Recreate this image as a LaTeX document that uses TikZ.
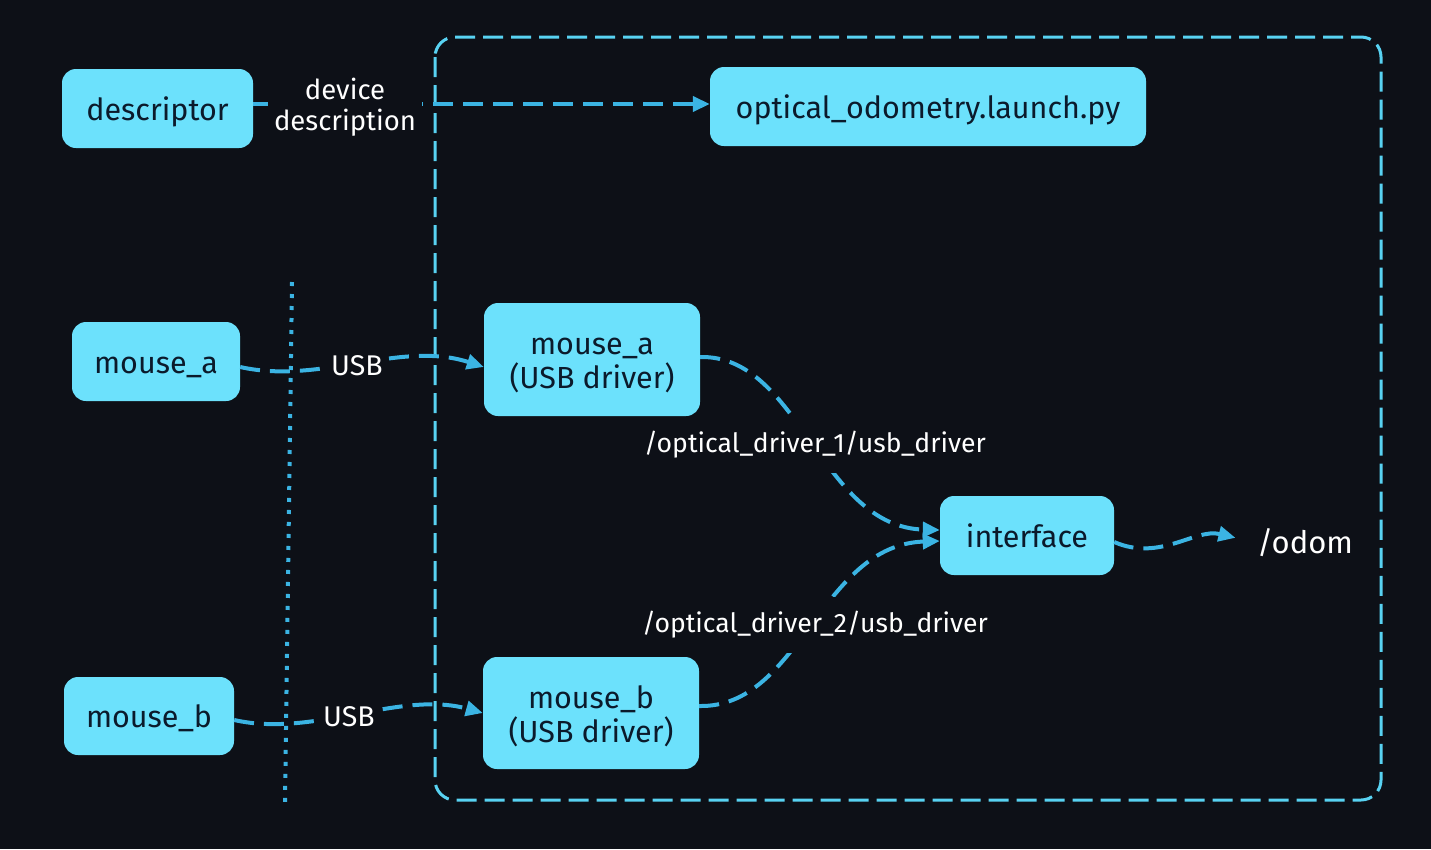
\documentclass[tikz,border=0pt]{standalone}
\usepackage{fontspec}
\setmainfont{Fira Sans}
\usetikzlibrary{arrows.meta,calc}
\definecolor{bg}{HTML}{0D1017}
\definecolor{nodefill}{HTML}{6CE1FC}
\definecolor{nodetext}{HTML}{0B1A2B}
\definecolor{edgecol}{HTML}{3BB4E3}
\definecolor{framecol}{HTML}{58D2F2}
\tikzset{
  box/.style={fill=nodefill, rounded corners=14pt, text=nodetext, font=\fontsize{30.5}{34}\selectfont, align=center, inner sep=0pt, text height=23pt, text depth=0pt},
  box2/.style={box, text height=58pt},
  edge/.style={draw=edgecol, line width=4pt, dash pattern=on 20pt off 10pt, -{Triangle[length=17pt,width=15pt]}},
  lbl/.style={fill=bg, text=white, font=\fontsize{27.5}{31}\selectfont, align=center, inner sep=6pt},
  frame/.style={draw=framecol, line width=3pt, dash pattern=on 20pt off 8pt, rounded corners=20pt},
  dotline/.style={draw=edgecol, line width=4pt, dash pattern=on 4pt off 8pt}
}
\begin{document}
\begin{tikzpicture}[x=1pt,y=-1pt]
\fill[bg] (0,0) rectangle (1431,849);
\useasboundingbox (0,0) rectangle (1431,849);
% outer dashed frame
\draw[frame] (435,37) rectangle (1381,800);
% dotted separator
\coordinate (dtop) at (292,282);
\coordinate (dbot) at (285,803);
\draw[dotline] (dtop) -- (dbot);
% nodes
\node[box, minimum width=191pt, minimum height=79pt] (desc) at (157.5,108.5) {descriptor};
\node[box, minimum width=436pt, minimum height=79pt] (launch) at (928,106.5) {optical\_odometry.launch.py};
\node[box, minimum width=168pt, minimum height=79pt] (ma) at (156,361.5) {mouse\_a};
\node[box, minimum width=170pt, minimum height=78pt] (mb) at (149,716) {mouse\_b};
\node[box2, minimum width=216pt, minimum height=113pt] (da) at (592,359.5) {mouse\_a\\(USB driver)};
\node[box2, minimum width=216pt, minimum height=112pt] (db) at (591,713) {mouse\_b\\(USB driver)};
\node[box, minimum width=174pt, minimum height=79pt] (iface) at (1027,535.5) {interface};
\node[text=white, font=\fontsize{31}{34}\selectfont, inner sep=0pt] (odom) at (1305,543) {/odom};
% edges
\draw[edge] ([yshift=4.5pt]desc.east) -- ([yshift=2.5pt]launch.west);
\draw[edge] ([yshift=-5.5pt]ma.east) .. controls (320,385) and (400,340) .. ([yshift=-7.5pt]da.west);
\draw[edge] ([yshift=-4pt]mb.east) .. controls (314,738) and (400,690) .. (db.west);
\draw[edge] ([yshift=2.5pt]da.east) .. controls (800,355) and (820,527) .. ([yshift=5.5pt]iface.west);
\draw[edge] ([yshift=7pt]db.east) .. controls (800,708) and (820,545) .. ([yshift=-5.5pt]iface.west);
\draw[edge, shorten >=22pt] ([yshift=-6.5pt]iface.east) .. controls (1160,562) and (1195,528) .. (odom.west);
% labels
\node[lbl] (l1) at (345,107) {device\\description};
\node[lbl, inner sep=5pt, font=\fontsize{28.5}{31}\selectfont] (l2) at (357,366) {USB};
\node[lbl, inner sep=5pt, font=\fontsize{28.5}{31}\selectfont] (l3) at (349,717) {USB};
\node[lbl, inner ysep=14pt, inner xsep=2pt, font=\fontsize{26.6}{31}\selectfont] (l4) at (815,445) {/optical\_driver\_1/usb\_driver};
\node[lbl, inner ysep=14pt, inner xsep=2pt, font=\fontsize{26.6}{31}\selectfont] (l5) at (815,625) {/optical\_driver\_2/usb\_driver};
\end{tikzpicture}
\end{document}
